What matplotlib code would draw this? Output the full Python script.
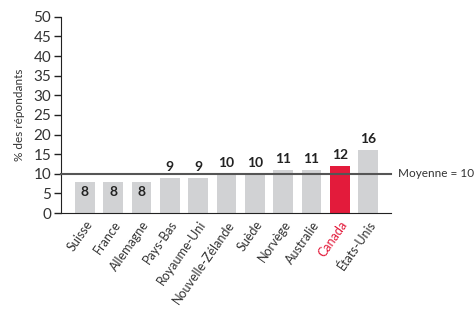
import numpy as np
import matplotlib.pyplot as plt

# data
pays = ['Suisse', 'France', 'Allemagne', 'Pays-Bas', 'Royaume-Uni',
        'Nouvelle-Zélande', 'Suède', 'Norvège', 'Australie', 'Canada', 'États-Unis']
valeurs = [8, 8, 8, 9, 9, 10, 10, 11, 11, 12, 16]
moyenne = 10

gris = '#d1d2d4'
rouge = '#e31b3b'
texte = '#333333'

plt.rcParams['font.family'] = ['Lato', 'DejaVu Sans']
plt.rcParams['font.size'] = 10

fig = plt.figure(figsize=(4.75, 3.12), dpi=100)
ax = fig.add_axes([0.128, 0.317, 0.695, 0.629])

x = np.arange(len(pays))
couleurs = [rouge if p == 'Canada' else gris for p in pays]
ax.bar(x, valeurs, width=0.7, color=couleurs, zorder=2)

# value labels: the 8s sit inside the bar, below the mean line
for xi, v in zip(x, valeurs):
    if v < 9:
        ax.text(xi, v - 1.0, str(v), ha='center', va='top', fontsize=10,
                fontweight='bold', color='#222222', zorder=3)
    else:
        ax.text(xi, v + 1.3, str(v), ha='center', va='bottom', fontsize=10,
                fontweight='bold', color='#222222', zorder=3)

# mean line
ax.axhline(moyenne, color='#555555', linewidth=1.5, zorder=4, clip_on=False)
ax.text(1.02, moyenne, 'Moyenne = 10', transform=ax.get_yaxis_transform(),
        ha='left', va='center', fontsize=8.5, color=texte)

ax.set_xlim(-0.85, 10.8)
ax.set_ylim(0, 50)
ax.set_yticks(np.arange(0, 51, 5))
ax.tick_params(axis='y', direction='out', length=5, width=1, labelsize=11,
               colors='#222222', labelcolor=texte, pad=2)
ax.set_xticks(x)
ax.set_xticklabels(pays, rotation=55, ha='right', rotation_mode='anchor',
                   fontsize=9, color=texte)
ax.tick_params(axis='x', length=0, pad=4)
ax.get_xticklabels()[pays.index('Canada')].set_color(rouge)

for s in ['top', 'right']:
    ax.spines[s].set_visible(False)
ax.spines['left'].set_color('#222222')
ax.spines['bottom'].set_color('#222222')

ax.set_ylabel('% des répondants', fontsize=8.5, color=texte, labelpad=6)

fig.savefig('out.png', dpi=100)
